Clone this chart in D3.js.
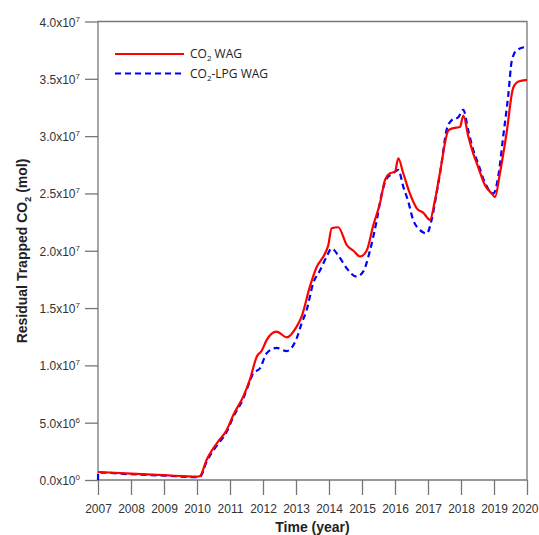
<!DOCTYPE html>
<html>
<head>
<meta charset="utf-8">
<title>Residual trapped CO2</title>
<script src="https://cdn.jsdelivr.net/npm/d3@7"></script>
<style>
body { margin: 0; background: #fff; }
.tick-label { font: 12px "Liberation Sans", Arial, sans-serif; fill: #333; }
.ax-title { font: bold 14px "Liberation Sans", Arial, sans-serif; fill: #222; }
.legend-text { font: 12px "Open Sans", sans-serif; fill: #222; }
.frame { stroke: #777; stroke-width: 1.3; fill: none; }
.lineCo2 { fill: none; stroke: #ff0000; stroke-width: 2.2px; }
.lineLpg { fill: none; stroke: #0000ff; stroke-width: 2.2px; stroke-dasharray: 6,4; }
</style>
</head>
<body>
<script>

// values in units of 1e7 mol
var co2Years = [2007.0, 2008.0, 2009.0, 2010.0, 2010.09, 2010.29, 2010.6, 2010.9, 2011.1, 2011.4, 2011.6, 2011.81, 2011.96,
  2012.11, 2012.41, 2012.72, 2013.02, 2013.17, 2013.42, 2013.63, 2013.83, 2013.98, 2014.08, 2014.28, 2014.54,
  2014.74, 2014.94, 2015.14, 2015.34, 2015.55, 2015.7, 2015.85, 2016.0, 2016.1, 2016.25, 2016.45, 2016.66,
  2016.86, 2017.06, 2017.21, 2017.36, 2017.62, 2017.77, 2017.97, 2018.07, 2018.22, 2018.37, 2018.52, 2018.73,
  2018.93, 2019.03, 2019.18, 2019.38, 2019.58, 2019.74, 2020.0];
var co2Vals = [0.07, 0.055, 0.042, 0.03, 0.035, 0.175, 0.32, 0.436, 0.567, 0.727, 0.873, 1.076, 1.128,
  1.22, 1.294, 1.245, 1.338, 1.425, 1.687, 1.861, 1.949, 2.05, 2.196, 2.205, 2.05,
  2.0, 1.95, 2.0, 2.22, 2.42, 2.62, 2.676, 2.69, 2.807, 2.676, 2.5, 2.37,
  2.33, 2.27, 2.44, 2.676, 3.05, 3.07, 3.08, 3.18, 3.0, 2.85, 2.73, 2.57,
  2.5, 2.47, 2.676, 3.025, 3.42, 3.476, 3.49];

var lpgYears = [2007.0, 2007.004, 2008.0, 2009.0, 2010.0, 2010.1, 2010.29, 2010.6, 2010.9, 2011.1, 2011.4, 2011.6, 2011.7,
  2011.91, 2012.11, 2012.41, 2012.72, 2013.02, 2013.17, 2013.32, 2013.52, 2013.73, 2013.93, 2014.08, 2014.28,
  2014.53, 2014.84, 2015.04, 2015.24, 2015.45, 2015.6, 2015.75, 2015.95, 2016.1, 2016.25, 2016.4, 2016.55,
  2016.76, 2016.96, 2017.11, 2017.26, 2017.41, 2017.56, 2017.72, 2017.92, 2018.07, 2018.22, 2018.37, 2018.52,
  2018.73, 2018.98, 2019.13, 2019.28, 2019.43, 2019.54, 2019.69, 2020.0];
var lpgVals = [0.0, 0.065, 0.05, 0.038, 0.025, 0.03, 0.16, 0.3, 0.42, 0.55, 0.71, 0.86, 0.93,
  0.975, 1.105, 1.152, 1.125, 1.236, 1.367, 1.48, 1.716, 1.83, 1.95, 2.02, 1.96,
  1.85, 1.774, 1.82, 2.0, 2.27, 2.5, 2.63, 2.676, 2.705, 2.56, 2.43, 2.27,
  2.18, 2.15, 2.27, 2.5, 2.76, 3.05, 3.14, 3.165, 3.23, 3.05, 2.88, 2.76,
  2.59, 2.5, 2.65, 3.0, 3.35, 3.66, 3.75, 3.78];

var xTicks = [2007, 2008, 2009, 2010, 2011, 2012, 2013, 2014, 2015, 2016, 2017, 2018, 2019, 2020];
var yTicks = [0, 0.5, 1.0, 1.5, 2.0, 2.5, 3.0, 3.5, 4.0];
var yTickMant = ["0.0", "5.0", "1.0", "1.5", "2.0", "2.5", "3.0", "3.5", "4.0"];
var yTickExp = ["0", "6", "7", "7", "7", "7", "7", "7", "7"];
var seriesNames = ["WAG", "-LPG WAG"];

var W = 539, H = 535;
var pLeft = 98, pRight = 527, pTop = 21.5, pBottom = 480;

var x = d3.scaleLinear().domain([2007, 2020]).range([pLeft, pRight]);
var y = d3.scaleLinear().domain([0, 4]).range([pBottom, pTop]);

var svg = d3.select("body").append("svg")
  .attr("width", W)
  .attr("height", H);

// frame
svg.append("path")
  .attr("class", "frame")
  .attr("d", "M" + pLeft + "," + pTop + "H" + pRight + "V" + pBottom + "H" + pLeft + "Z");

// x axis
var xAxis = svg.append("g")
  .attr("transform", "translate(0," + pBottom + ")")
  .call(d3.axisBottom(x).tickValues(xTicks).tickFormat(d3.format("d")).tickSize(15).tickSizeOuter(0));
xAxis.select(".domain").remove();
xAxis.selectAll("line").attr("stroke", "#777").attr("stroke-width", 1.3);
xAxis.selectAll("text").attr("class", "tick-label").attr("dy", null).attr("y", 33);
// last label would run off the right edge
xAxis.selectAll("text").filter(function(d) { return d == 2020; })
  .attr("text-anchor", "end").attr("x", 11);

// y axis
var yAxis = svg.append("g")
  .attr("transform", "translate(" + pLeft + ",0)")
  .call(d3.axisLeft(y).tickValues(yTicks).tickFormat("").tickSize(13).tickSizeOuter(0));
yAxis.select(".domain").remove();
yAxis.selectAll("line").attr("stroke", "#777").attr("stroke-width", 1.3);
yAxis.selectAll(".tick").each(function(d, i) {
  var t = d3.select(this).append("text")
    .attr("class", "tick-label")
    .attr("x", -18)
    .attr("y", 4.5)
    .attr("text-anchor", "end");
  t.append("tspan").text(yTickMant[i] + "x10");
  t.append("tspan").attr("dy", -5).style("font-size", "8px").text(yTickExp[i]);
});

// lines
var line = d3.line()
  .x(function(d) { return x(d[0]); })
  .y(function(d) { return y(d[1]); })
  .curve(d3.curveMonotoneX);

svg.append("path")
  .datum(d3.zip(lpgYears, lpgVals))
  .attr("class", "lineLpg")
  .attr("d", line);

svg.append("path")
  .datum(d3.zip(co2Years, co2Vals))
  .attr("class", "lineCo2")
  .attr("d", line);

// legend
var lg = svg.append("g");
lg.append("line").attr("class", "lineCo2").attr("x1", 115).attr("x2", 184).attr("y1", 54).attr("y2", 54);
lg.append("line").attr("class", "lineLpg").attr("x1", 115).attr("x2", 184).attr("y1", 73.5).attr("y2", 73.5);
[54, 73.5].forEach(function(yy, i) {
  var t = lg.append("text").attr("class", "legend-text").attr("x", 190).attr("y", yy + 4);
  t.append("tspan").text("CO");
  t.append("tspan").attr("dy", 3).style("font-size", "8px").text("2");
  t.append("tspan").attr("dy", -3).text(i == 0 ? " " + seriesNames[i] : seriesNames[i]);
});

// axis titles
svg.append("text")
  .attr("class", "ax-title")
  .attr("x", (pLeft + pRight) / 2)
  .attr("y", 532)
  .attr("text-anchor", "middle")
  .text("Time (year)");

var yt = svg.append("text")
  .attr("class", "ax-title")
  .attr("transform", "translate(27,251) rotate(-90)")
  .attr("text-anchor", "middle");
yt.append("tspan").text("Residual Trapped CO");
yt.append("tspan").attr("dy", 4).style("font-size", "9px").text("2");
yt.append("tspan").attr("dy", -4).text(" (mol)");

</script>
</body>
</html>
